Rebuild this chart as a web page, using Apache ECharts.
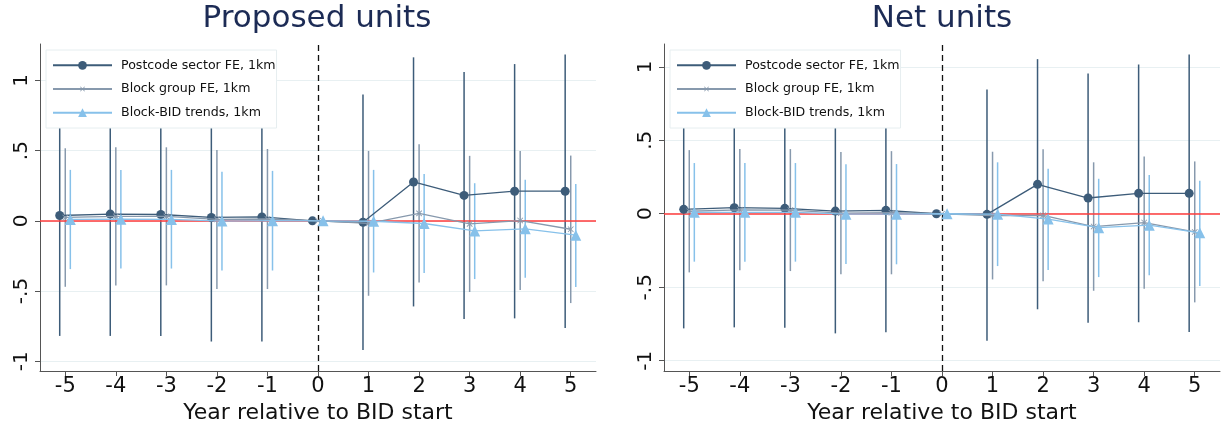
<!DOCTYPE html>
<html>
<head>
<meta charset="utf-8">
<script src="https://cdn.jsdelivr.net/npm/echarts@6/dist/echarts.min.js"></script>
<style>
html,body{margin:0;padding:0;background:#fff;}
#c{width:1225px;height:430px;}
</style>
</head>
<body>
<div id="c"></div>
<script>
const years = [-5,-4,-3,-2,-1,0,1,2,3,4,5];
const xTicks = [-5,-4,-3,-2,-1,0,1,2,3,4,5];
const yTicks = [-1,-0.5,0,0.5,1];
const yTickLabels = ['-1','-.5','0','.5','1'];
const panelTitles = ['Proposed units','Net units'];
const seriesNames = ['Postcode sector FE, 1km','Block group FE, 1km','Block-BID trends, 1km'];

// Proposed units
const propPcEst = [0.038,0.048,0.045,0.024,0.028,0,-0.01,0.277,0.181,0.211,0.211];
const propPcLo  = [-0.82,-0.82,-0.82,-0.86,-0.86,null,-0.92,-0.61,-0.70,-0.695,-0.764];
const propPcHi  = [0.896,0.916,0.91,0.908,0.916,null,0.90,1.165,1.06,1.117,1.186];
const propBgEst = [0.024,0.032,0.032,0.01,0.013,0,-0.018,0.053,-0.022,0.002,-0.06];
const propBgLo  = [-0.47,-0.46,-0.46,-0.486,-0.486,null,-0.534,-0.439,-0.507,-0.493,-0.586];
const propBgHi  = [0.517,0.524,0.524,0.505,0.512,null,0.498,0.546,0.463,0.498,0.465];
const propBtEst = [0.01,0.012,0.01,-0.002,0.001,0,-0.003,-0.019,-0.072,-0.057,-0.102];
const propBtLo  = [-0.344,-0.34,-0.34,-0.354,-0.354,null,-0.368,-0.372,-0.415,-0.406,-0.472];
const propBtHi  = [0.363,0.363,0.363,0.349,0.356,null,0.363,0.334,0.268,0.292,0.263];

// Net units
const netPcEst = [0.03,0.041,0.037,0.018,0.023,0,-0.004,0.2,0.107,0.139,0.139];
const netPcLo  = [-0.78,-0.773,-0.776,-0.814,-0.807,null,-0.864,-0.65,-0.741,-0.739,-0.805];
const netPcHi  = [0.84,0.855,0.85,0.85,0.853,null,0.846,1.052,0.955,1.016,1.084];
const netBgEst = [0.017,0.027,0.025,0.004,0.007,0,-0.012,-0.011,-0.087,-0.06,-0.124];
const netBgLo  = [-0.399,-0.385,-0.39,-0.412,-0.412,null,-0.447,-0.46,-0.524,-0.51,-0.603];
const netBgHi  = [0.433,0.44,0.44,0.42,0.426,null,0.422,0.438,0.35,0.39,0.356];
const netBtEst = [0.01,0.01,0.01,-0.003,-0.003,0,-0.003,-0.036,-0.095,-0.078,-0.13];
const netBtLo  = [-0.326,-0.326,-0.326,-0.342,-0.344,null,-0.356,-0.383,-0.431,-0.419,-0.492];
const netBtHi  = [0.345,0.345,0.345,0.336,0.338,null,0.35,0.306,0.238,0.263,0.224];

const FONT = 'DejaVu Sans';
const colors = ['#3d5c79','#8799ad','#87c1ea'];
const offsets = [-0.11, 0, 0.1];
// X marker with a padded (invisible) bounding box so it stays small in the legend too
const xPath = 'path://M-4,-4L-4,-4L-4,-4ZM14,14L14,14L14,14ZM0,1L1,0L5,4L9,0L10,1L6,5L10,9L9,10L5,6L1,10L0,9L4,5Z';
const symbols = ['circle', xPath, 'triangle'];
const symSizes = [9, 11, 11];

const panels = [
  {est:[propPcEst,propBgEst,propBtEst], lo:[propPcLo,propBgLo,propBtLo], hi:[propPcHi,propBgHi,propBtHi], left:40, yMin:-1.07, yMax:1.26, titleX:317},
  {est:[netPcEst,netBgEst,netBtEst], lo:[netPcLo,netBgLo,netBtLo], hi:[netPcHi,netBgHi,netBtHi], left:664, yMin:-1.07, yMax:1.155, titleX:942}
];

const option = {
  animation:false,
  backgroundColor:'#fff',
  textStyle:{fontFamily:FONT},
  title: panels.map((p,i)=>({
    text: panelTitles[i], left: p.titleX, top: 3, textAlign:'center', padding:0,
    textStyle:{fontFamily:FONT, fontSize:31, fontWeight:'normal', color:'#1c2b55'}
  })),
  legend: panels.map((p,i)=>({
    data: seriesNames,
    orient:'vertical',
    left: p.left+6, top: 50,
    itemWidth: 59, itemHeight: 11, itemGap: 10.7,
    padding:[8.8,1,8.8,6],
    backgroundColor:'#fff',
    borderColor:'#e6eef0', borderWidth:1,
    textStyle:{fontFamily:FONT, fontSize:12.6, color:'#111', padding:[0,0,0,4]},
    selectedMode:false
  })),
  grid: panels.map(p=>({left:p.left, width:556, top:44, height:327})),
  xAxis: panels.map((p,i)=>({
    gridIndex:i, type:'value', min:-5.5, max:5.5,
    name:'Year relative to BID start', nameLocation:'middle', nameGap:28,
    nameTextStyle:{fontFamily:FONT, fontSize:22, color:'#111'},
    axisLine:{show:true, onZero:false, lineStyle:{color:'#555', width:1}},
    axisTick:{show:true, customValues:xTicks, length:5, lineStyle:{color:'#555'}},
    axisLabel:{customValues:xTicks, fontFamily:FONT, fontSize:21, color:'#111', margin:5},
    splitLine:{show:false}
  })),
  yAxis: panels.map((p,i)=>({
    gridIndex:i, type:'value', min:p.yMin, max:p.yMax,
    axisLine:{show:true, onZero:false, lineStyle:{color:'#555', width:1}},
    axisTick:{show:true, customValues:yTicks, length:5, lineStyle:{color:'#555'}},
    axisLabel:{customValues:yTicks, rotate:90, fontFamily:FONT, fontSize:20, color:'#111', margin:8,
      formatter:(v)=>{const k=yTicks.findIndex(t=>Math.abs(t-v)<1e-9); return k>=0?yTickLabels[k]:'';}},
    splitLine:{show:true, lineStyle:{color:'#e8f0f2', width:1}}
  })),
  series: []
};

panels.forEach((p,pi)=>{
  option.series.push({
    type:'line', xAxisIndex:pi, yAxisIndex:pi, data:[], z:1, silent:true,
    markLine:{
      symbol:'none', silent:true, animation:false, label:{show:false},
      data:[
        {yAxis:0, lineStyle:{color:'#ff3b3b', width:1.6, type:'solid'}},
        {xAxis:0, lineStyle:{color:'#111', width:1.3, type:[6,4]}}
      ]
    }
  });
  for (let s=0;s<3;s++){
    const off = offsets[s];
    const ciData = years.map((y,k)=> p.lo[s][k]==null ? null : [y+off, p.lo[s][k], p.hi[s][k]]).filter(d=>d);
    option.series.push({
      type:'custom', name:seriesNames[s]+' CI', xAxisIndex:pi, yAxisIndex:pi, z:2+s,
      data: ciData, encode:{x:0, y:[1,2]}, clip:true, silent:true,
      renderItem:(params, api)=>{
        const a = api.coord([api.value(0), api.value(1)]);
        const b = api.coord([api.value(0), api.value(2)]);
        return {type:'line', shape:{x1:a[0],y1:a[1],x2:b[0],y2:b[1]},
          style:{stroke:colors[s], lineWidth:1.5}};
      }
    });
    option.series.push({
      type:'line', name:seriesNames[s], xAxisIndex:pi, yAxisIndex:pi, z:5+s,
      data: years.map((y,k)=>[y+off, p.est[s][k]]),
      symbol:symbols[s], symbolSize:symSizes[s], showAllSymbol:true,
      itemStyle:{color:colors[s], borderWidth:0},
      lineStyle:{color:colors[s], width:1.3},
      silent:true
    });
  }
});

const chart = echarts.init(document.getElementById('c'), null, {renderer:'canvas'});
chart.setOption(option);
</script>
</body>
</html>
